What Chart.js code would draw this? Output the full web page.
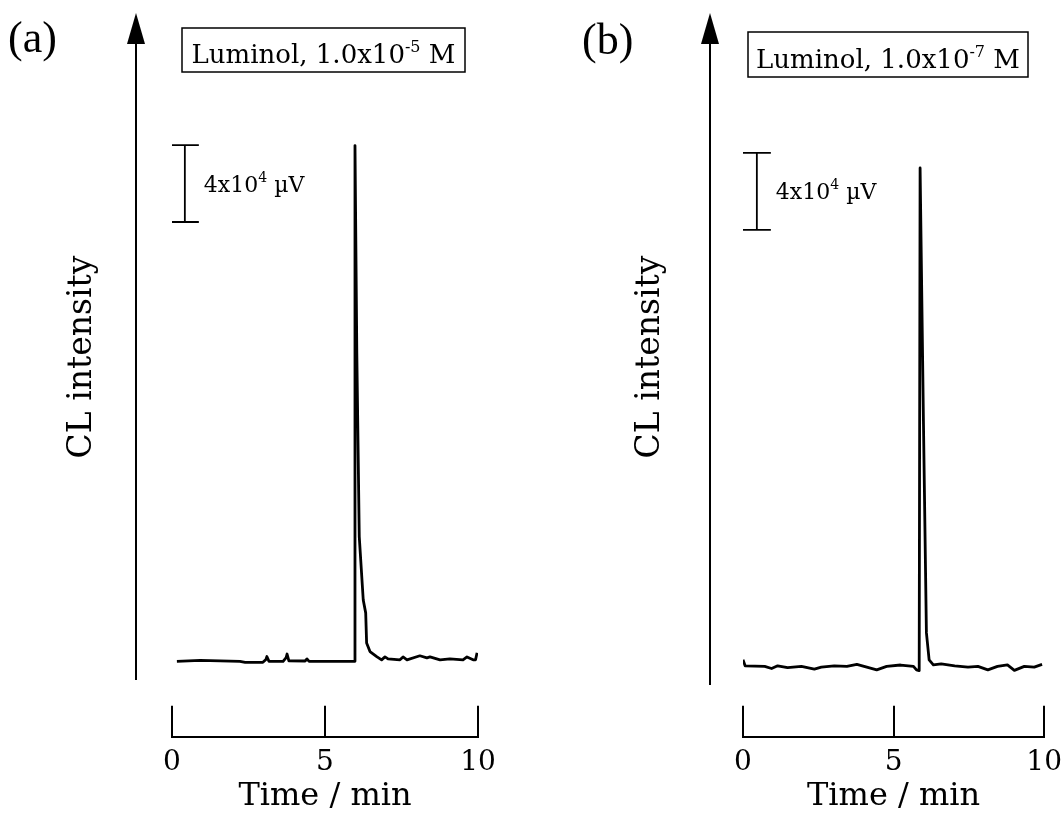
<!DOCTYPE html>
<html>
<head>
<meta charset="utf-8">
<script src="https://cdn.jsdelivr.net/npm/chart.js@4.4.1/dist/chart.umd.min.js"></script>
<style>
  html, body { margin: 0; padding: 0; background: #fff; }
  #contenedor { display: flex; width: 1062px; height: 822px; }
  canvas { display: block; }
</style>
</head>
<body>
<div id="contenedor">
  <canvas id="grafico-a" width="531" height="822"></canvas>
  <canvas id="grafico-b" width="531" height="822"></canvas>
</div>
<script>
// Datos: tiempo en min, intensidad en unidades de 1x10^4 µV
const tiempoA = [0.16, 0.92, 2.22, 2.39, 2.97, 3.07, 3.10, 3.17, 3.63, 3.73, 3.76, 3.82, 4.35, 4.41, 4.48, 5.96, 5.98, 6.04, 6.12, 6.25, 6.33, 6.36, 6.47, 6.69, 6.85, 6.96, 7.06, 7.45, 7.55, 7.68, 8.10, 8.33, 8.43, 8.76, 9.08, 9.51, 9.64, 9.84, 9.92, 9.97];
const señalA = [0.00, 0.05, 0.00, -0.05, -0.05, 0.10, 0.25, 0.00, 0.00, 0.20, 0.38, 0.03, 0.02, 0.13, 0.00, 0.00, 26.8, 16.0, 6.47, 3.19, 2.52, 0.96, 0.51, 0.25, 0.08, 0.23, 0.13, 0.08, 0.23, 0.08, 0.29, 0.18, 0.23, 0.08, 0.13, 0.08, 0.23, 0.08, 0.08, 0.45];

const tiempoB = [0.00, 0.07, 0.72, 0.95, 1.15, 1.48, 1.94, 2.37, 2.60, 3.03, 3.45, 3.78, 4.11, 4.44, 4.77, 5.23, 5.66, 5.76, 5.85, 5.88, 5.99, 6.09, 6.18, 6.32, 6.58, 7.03, 7.47, 7.80, 8.13, 8.45, 8.78, 9.01, 9.34, 9.67, 9.93];
const señalB = [0.31, 0.00, -0.03, -0.14, 0.00, -0.10, -0.03, -0.17, -0.07, 0.00, -0.03, 0.07, -0.07, -0.21, -0.03, 0.04, -0.03, -0.21, -0.25, 25.87, 12.8, 1.71, 0.31, 0.05, 0.10, 0.00, -0.07, -0.03, -0.21, -0.03, 0.05, -0.24, -0.03, -0.07, 0.07];

// Barra de escala: 4x10^4 µV
const escalaBarra = 4;
const barraA = { x: 0.42, y: 22.83 };
const barraB = { x: 0.46, y: 22.65 };

// Marcas del eje de tiempo
const marcasTiempo = [0, 5, 10];
const tituloTiempo = 'Time / min';
const tituloIntensidad = 'CL intensity';

const fuente = '"DejaVu Serif", serif';

// Dibuja flecha, caja, letra del panel, texto de la barra y etiqueta del eje Y
const decoracion = {
    id: 'decoracion',
    afterDraw(chart, args, o) {
        const ctx = chart.ctx;
        const area = chart.chartArea;
        const sx = chart.scales.x;
        const sy = chart.scales.y;
        ctx.save();
        ctx.fillStyle = '#000';
        ctx.strokeStyle = '#000';

        // Letra del panel
        ctx.font = '44px "Liberation Serif", serif';
        ctx.textBaseline = 'alphabetic';
        ctx.textAlign = 'left';
        ctx.fillText(o.letra, o.letraX, o.letraY);

        // Flecha vertical
        const fx = area.left - o.flechaSep;
        ctx.lineWidth = 2;
        ctx.beginPath();
        ctx.moveTo(fx, o.flechaFin);
        ctx.lineTo(fx, o.flechaPunta + 20);
        ctx.stroke();
        ctx.beginPath();
        ctx.moveTo(fx, o.flechaPunta);
        ctx.lineTo(fx - 9, o.flechaPunta + 31);
        ctx.lineTo(fx + 9, o.flechaPunta + 31);
        ctx.closePath();
        ctx.fill();

        // Caja con la concentración
        const c = o.caja;
        ctx.lineWidth = 1.5;
        ctx.strokeRect(c.x, c.y, c.w, c.h);
        ctx.font = '26px ' + fuente;
        const t1 = 'Luminol, 1.0x10';
        const t3 = ' M';
        const w1 = ctx.measureText(t1).width;
        const w3 = ctx.measureText(t3).width;
        ctx.font = '16px ' + fuente;
        const w2 = ctx.measureText(o.exponente).width;
        let tx = c.x + (c.w - (w1 + w2 + w3)) / 2;
        const base = c.y + c.h - 9;
        ctx.font = '26px ' + fuente;
        ctx.fillText(t1, tx, base);
        ctx.font = '16px ' + fuente;
        ctx.fillText(o.exponente, tx + w1, base - 11);
        ctx.font = '26px ' + fuente;
        ctx.fillText(t3, tx + w1 + w2, base);

        // Texto de la barra de escala
        const bx = sx.getPixelForValue(o.barra.x) + 19;
        const by = (sy.getPixelForValue(o.barra.y) + sy.getPixelForValue(o.barra.y + escalaBarra)) / 2 + 8;
        ctx.font = '22px ' + fuente;
        const s1 = '4x10';
        ctx.fillText(s1, bx, by);
        const ws1 = ctx.measureText(s1).width;
        ctx.font = '14px ' + fuente;
        ctx.fillText('4', bx + ws1, by - 10);
        const ws2 = ctx.measureText('4').width;
        ctx.font = '22px ' + fuente;
        ctx.fillText(' \u00b5V', bx + ws1 + ws2, by);

        // Etiqueta del eje Y
        ctx.translate(o.ejeYX, o.ejeYY);
        ctx.rotate(-Math.PI / 2);
        ctx.font = '33px ' + fuente;
        ctx.textAlign = 'center';
        ctx.textBaseline = 'middle';
        ctx.fillText(tituloIntensidad, 0, 0);
        ctx.restore();
    }
};

function crearGrafico(id, tiempos, señales, barra, limites, relleno, deco) {
    const puntos = tiempos.map((t, i) => ({ x: t, y: señales[i] }));
    const barraPuntos = [{ x: barra.x, y: barra.y }, { x: barra.x, y: barra.y + escalaBarra }];
    return new Chart(document.getElementById(id), {
        type: 'line',
        data: {
            datasets: [{
                data: puntos,
                borderColor: '#000',
                borderWidth: 2.8,
                pointRadius: 0,
                tension: 0,
                borderJoinStyle: 'round'
            }, {
                data: barraPuntos,
                borderColor: '#000',
                borderWidth: 1.8,
                pointStyle: 'line',
                pointRadius: 14,
                pointBorderWidth: 1.8,
                pointBorderColor: '#000'
            }]
        },
        options: {
            responsive: false,
            animation: false,
            layout: { padding: relleno },
            plugins: {
                legend: { display: false },
                tooltip: { enabled: false },
                decoracion: deco
            },
            scales: {
                x: {
                    type: 'linear',
                    min: marcasTiempo[0],
                    max: marcasTiempo[marcasTiempo.length - 1],
                    afterBuildTicks: (eje) => { eje.ticks = marcasTiempo.map(v => ({ value: v })); },
                    ticks: { color: '#000', font: { family: fuente, size: 28, lineHeight: 4.1 }, padding: 0, maxRotation: 0 },
                    grid: { drawOnChartArea: false, drawTicks: true, tickLength: -31, color: '#000', lineWidth: 2 },
                    border: { display: true, color: '#000', width: 2 },
                    title: { display: true, text: tituloTiempo, color: '#000', font: { family: fuente, size: 32 }, padding: { top: -43, bottom: 0 } }
                },
                y: { display: false, min: limites[0], max: limites[1] }
            }
        },
        plugins: [decoracion]
    });
}

crearGrafico('grafico-a', tiempoA, señalA, barraA, [-3.92, 29.17],
    { left: 172, right: 53, top: 100, bottom: 6 },
    { letra: '(a)', letraX: 8, letraY: 52, flechaSep: 36, flechaPunta: 13, flechaFin: 680,
      caja: { x: 182, y: 28, w: 283, h: 44 }, exponente: '-5', barra: barraA, ejeYX: 82, ejeYY: 357 });

crearGrafico('grafico-b', tiempoB, señalB, barraB, [-3.69, 29.4],
    { left: 212, right: 15, top: 100, bottom: 6 },
    { letra: '(b)', letraX: 51, letraY: 54, flechaSep: 33, flechaPunta: 13, flechaFin: 685,
      caja: { x: 217, y: 32, w: 280, h: 45 }, exponente: '-7', barra: barraB, ejeYX: 119, ejeYY: 357 });
</script>
</body>
</html>
